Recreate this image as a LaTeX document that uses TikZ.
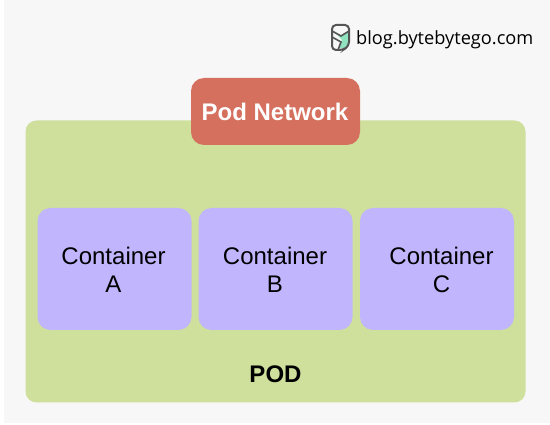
\documentclass[tikz,border=0pt]{standalone}
\usepackage{fontspec}
\setmainfont{Liberation Sans}
\newfontfamily\blogfont{Open Sans}
\definecolor{bgc}{HTML}{F7F7F7}
\definecolor{podc}{HTML}{CEE09C}
\definecolor{netc}{HTML}{D5705F}
\definecolor{boxc}{HTML}{C1B5FD}
\definecolor{logoc}{HTML}{555555}
\definecolor{logog}{HTML}{8FE3BE}
\tikzset{
 x=1pt,y=-1pt,
 panel/.style={inner sep=0pt,outer sep=0pt,anchor=north west,draw=none},
 podbox/.style={panel,fill=podc,rounded corners=11pt,minimum width=500pt,minimum height=282pt},
 netbox/.style={panel,fill=netc,rounded corners=13pt,minimum width=169pt,minimum height=67pt},
 ctrbox/.style={panel,fill=boxc,rounded corners=13pt,minimum width=154pt,minimum height=122pt},
 lbl/.style={font=\fontsize{24}{28}\selectfont,align=center,text=black,inner sep=0pt},
 boldlbl/.style={lbl,font=\fontsize{24}{28}\selectfont\bfseries},
}
\begin{document}
\begin{tikzpicture}
\useasboundingbox (0,0) rectangle (550,425);
\fill[white] (0,0) rectangle (550,425);
\fill[bgc] (4,0) rectangle (550,423);
\node[podbox] (pod) at (25.5,120.5) {};
\node[netbox] (net) at (191,78) {};
\node[ctrbox] (a) at (37.5,208) {};
\node[ctrbox] (b) at (198.5,208) {};
\node[ctrbox] (c) at (360,208) {};
\node[boldlbl,text=white] (nettext) at (275,111.5) {Pod Network};
\node[lbl] (atext) at (113.5,269.5) {Container\\A};
\node[lbl] (btext) at (275,269.5) {Container\\B};
\node[lbl] (ctext) at (441.5,269.5) {Container\\C};
\node[boldlbl] (podtext) at (275.5,374) {POD};
\node[inner sep=0pt,anchor=west,font=\fontsize{18.2}{22}\selectfont\blogfont] (blog) at (356,39.5) {blog.bytebytego.com};
% logo
\fill[logog] (334,31) -- (341,36) -- (349,31) -- (349,44) -- (344,48) -- (339,48) -- (342,40) -- cycle;
\draw[logoc,line width=2pt,rounded corners=4pt] (332,25) -- (349,25) -- (349,46) -- (343,50) -- (332,50) -- cycle;
\draw[logoc,line width=1.6pt] (332,31) -- (341,36) -- (349,31) (332,37) -- (341,42) -- (338,50);
\end{tikzpicture}
\end{document}
